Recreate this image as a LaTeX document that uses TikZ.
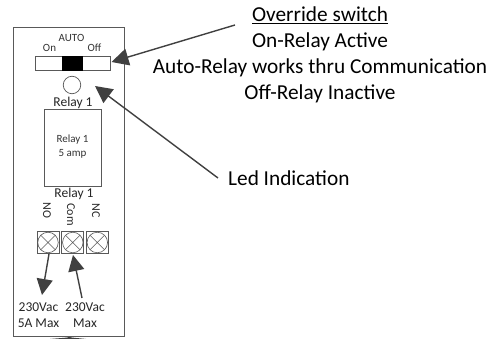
\documentclass[tikz,border=0pt]{standalone}
\usepackage{fontspec}
\setmainfont{Carlito}
\usetikzlibrary{arrows.meta}
\definecolor{ln}{HTML}{595959}
\definecolor{ar}{HTML}{404040}
\tikzset{
 x=1pt,y=-1pt,
 box/.style={draw=ln,line width=0.9pt,inner sep=0pt,outer sep=0pt,anchor=north west},
 lab/.style={inner sep=0pt,text=black,align=center},
 small/.style={lab,font=\fontsize{11}{14}\selectfont,text=black!80},
 mid/.style={lab,font=\fontsize{13.5}{16}\selectfont,text=black!85},
 rot/.style={lab,font=\fontsize{12}{14}\selectfont,text=black!85,rotate=-90},
 volt/.style={lab,font=\fontsize{13.5}{16}\selectfont,text=black!85},
 big/.style={lab,font=\fontsize{21.3}{26}\selectfont},
 arrow/.style={draw=ar,line width=1.4pt,-{Triangle[length=17pt,width=17pt]}},
 arrowb/.style={draw=ar,line width=1.4pt,-{Triangle[length=16pt,width=16pt]}},
}
\begin{document}
\begin{tikzpicture}
\useasboundingbox (0,0) rectangle (491,339);
\node[box,minimum width=111pt,minimum height=308.5pt] (panel) at (13.5,27.5) {};
\node[box,minimum width=75pt,minimum height=14pt] (sw) at (35.5,56) {};
\node[draw=black,fill=black,inner sep=0pt,outer sep=0pt,anchor=north west,minimum width=20pt,minimum height=14pt] (knob) at (62,56) {};
\node[draw=ln,circle,line width=0.7pt,minimum size=17.5pt,inner sep=0pt] (led) at (72,85) {};
\node[box,minimum width=57pt,minimum height=76.5pt] (relay) at (44,109.5) {};
\node[small] (auto) at (71.5,38) {AUTO};
\node[small] (on) at (49.5,48) {On};
\node[small] (off) at (94.5,48) {Off};
\node[mid] (r1a) at (73,103) {Relay 1};
\node[small] (r5) at (72.5,147) {Relay 1\\5 amp};
\node[mid] (r1b) at (74,194) {Relay 1};
\node[rot] (no) at (47,210.5) {NO};
\node[rot] (com) at (71,214.5) {Com};
\node[rot] (nc) at (96,210.5) {NC};
\foreach \n/\x in {ta/48,tb/72.8,tc/97.3}{
 \node[draw=ln,line width=0.8pt,minimum size=22pt,inner sep=0pt,outer sep=0pt] (\n) at (\x,242.5) {};
 \node[draw=ln,circle,line width=0.6pt,minimum size=20.5pt,inner sep=0pt,outer sep=0pt] (\n c) at (\x,242.5) {};
 \draw[ln,line width=0.5pt] (\n c.north west) -- (\n c.south east) (\n c.north east) -- (\n c.south west);
}
\node[volt] (l1) at (38.5,315) {230Vac\\5A Max};
\node[volt] (l2) at (85,315) {230Vac\\Max};
\coordinate (s1) at (49,254);
\coordinate (e1) at (42,295);
\draw[arrowb] (s1) -- (e1);
\coordinate (s2) at (82,298);
\coordinate (e2) at (73,255);
\draw[arrowb] (s2) -- (e2);
\node[big,anchor=north] (title) at (320,7) {\underline{Override switch}\\On-Relay Active\\Auto-Relay works thru Communication\\Off-Relay Inactive};
\coordinate (t1) at (235,25);
\coordinate (t2) at (111.5,62);
\draw[arrow] (t1) -- (t2);
\node[big,anchor=west] (led2) at (228,178) {Led Indication};
\coordinate (t3) at (218,178);
\coordinate (t4) at (95,86);
\draw[arrow] (t3) -- (t4);
\fill[ar] (50,339) .. controls (60,338) and (66,338) .. (69.5,337) .. controls (73,338) and (78,338) .. (86,339) -- cycle;
\end{tikzpicture}
\end{document}
